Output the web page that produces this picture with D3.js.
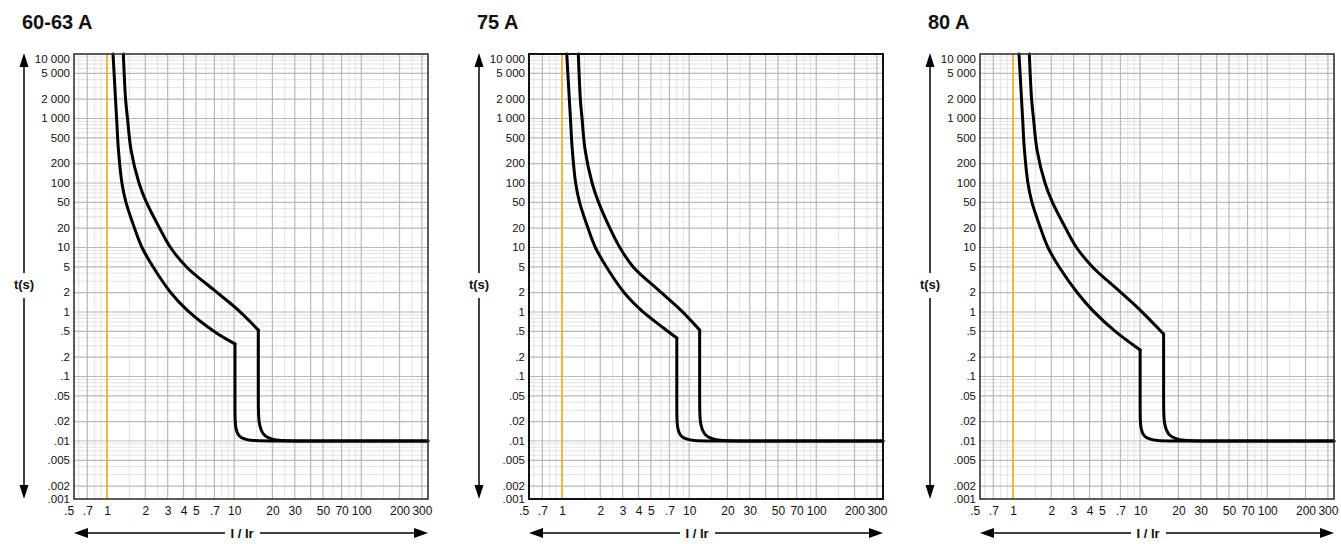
<!DOCTYPE html>
<html><head><meta charset="utf-8">
<script src="https://cdn.jsdelivr.net/npm/d3@7"></script>
<style>body{margin:0;background:#fff}</style>
</head><body><svg id="c" width="1341" height="544"></svg>
<script>
const FONT = '"Liberation Sans", Arial, Helvetica, sans-serif';
const panelTitles = ["60-63 A", "75 A", "80 A"];
const xTickValues = [0.5, 0.7, 1, 2, 3, 4, 5, 7, 10, 20, 30, 50, 70, 100, 200, 300];
const xTickLabels = [".5", ".7", "1", "2", "3", "4", "5", ".7", "10", "20", "30", "50", "70", "100", "200", "300"];
const yTickValues = [10000, 5000, 2000, 1000, 500, 200, 100, 50, 20, 10, 5, 2, 1, 0.5, 0.2, 0.1, 0.05, 0.02, 0.01, 0.005, 0.002, 0.001];
const yTickLabels = ["10 000", "5 000", "2 000", "1 000", "500", "200", "100", "50", "20", "10", "5", "2", "1", ".5", ".2", ".1", ".05", ".02", ".01", ".005", ".002", ".001"];
const xMajorMult = [1, 2, 3, 4, 5, 7];
const xMinorMult = [1.5, 2.5, 6, 8, 9];
const yMajorMult = [1, 2, 5];
const yMinorMult = [3, 4, 6, 7, 8, 9];
const ratedLine = 1; // I/Ir = 1

// tripping curves [I/Ir, t(s)]: thermal part up to the corner,
// then magnetic trip (vertical), rounded knee and instantaneous floor at 0.01 s
const min60 = [[1.115,10000],[1.19,1000],[1.23,325],[1.31,100],[1.41,50],[1.645,20],[1.885,10],[2.32,4.9],[3.19,1.97],[4.33,1.04],[7.06,0.49],[10.15,0.32],
               [10.15,0.0272],[10.15,0.01],[16.9,0.01],[335,0.01]];
const max60 = [[1.344,10000],[1.40,2000],[1.45,1000],[1.545,325],[1.785,100],[2.045,50],[2.59,20],[3.16,10],[4.26,4.9],[6.93,2.2],[10.77,1.07],[15.5,0.525],
               [15.5,0.0362],[15.5,0.01],[29.7,0.01],[335,0.01]];
const min75 = [[1.09,10000],[1.165,1000],[1.205,325],[1.28,100],[1.375,50],[1.60,20],[1.83,10],[2.25,4.9],[3.1,1.97],[4.25,1.04],[6.4,0.55],[8.0,0.395],
               [8.0,0.0272],[8.0,0.01],[13.3,0.01],[335,0.01]];
const max75 = [[1.344,10000],[1.394,2000],[1.438,1000],[1.52,325],[1.725,100],[1.94,50],[2.38,20],[2.85,10],[3.66,4.9],[5.72,2.2],[8.6,1.07],[12.1,0.525],
               [12.1,0.0362],[12.1,0.01],[23.2,0.01],[335,0.01]];
const min80 = [[1.115,10000],[1.19,1000],[1.23,325],[1.31,100],[1.41,50],[1.645,20],[1.885,10],[2.32,4.9],[3.22,1.97],[4.26,1.04],[6.45,0.49],[10.0,0.258],
               [10.0,0.0272],[10.0,0.01],[16.6,0.01],[335,0.01]];
const max80 = [[1.344,10000],[1.40,2000],[1.45,1000],[1.545,325],[1.785,100],[2.045,50],[2.59,20],[3.16,10],[4.26,4.9],[6.7,2.2],[10.0,1.07],[15.3,0.456],
               [15.3,0.0362],[15.3,0.01],[29.4,0.01],[335,0.01]];
const panelCurves = [[min60, max60], [min75, max75], [min80, max80]];

const svg = d3.select("#c");
const lefts = [74, 529, 980];
const W = 354, TOP = 54, BOT = 499;
const decadesX = [0.1, 1, 10, 100];
const decadesY = [0.001, 0.01, 0.1, 1, 10, 100, 1000];

function arrowV(g, x, y0, y1) {
  const dir = Math.sign(y1 - y0);
  g.append("path").attr("d", `M${x},${y1} L${x-4.5},${y1 - dir*14} L${x+4.5},${y1 - dir*14} Z`).attr("fill", "#000");
}
function arrowH(g, y, x0, x1) {
  const dir = Math.sign(x1 - x0);
  g.append("path").attr("d", `M${x1},${y} L${x1 - dir*14},${y-5} L${x1 - dir*14},${y+5} Z`).attr("fill", "#000");
}

panelTitles.forEach((title, p) => {
  const L = lefts[p], R = L + W;
  const x = d3.scaleLog().domain([0.55, 335]).range([L, R]);
  const y = d3.scaleLog().domain([0.00126, 10000]).range([BOT, TOP]).clamp(true);
  const g = svg.append("g");

  g.append("text").attr("x", L - 52).attr("y", 29).attr("font-family", FONT).attr("font-weight", "bold")
    .attr("font-size", 20).attr("fill", "#111").text(title);

  const [xd0, xd1] = x.domain();
  const [yd0, yd1] = y.domain();
  const inX = v => v > xd0 && v < xd1;
  const inY = v => v > yd0 * 1.0001 && v < yd1;
  const xMinor = decadesX.flatMap(d => xMinorMult.map(m => d * m)).filter(inX);
  const xMajor = decadesX.flatMap(d => xMajorMult.map(m => d * m)).filter(inX);
  const yMinor = decadesY.flatMap(d => yMinorMult.map(m => d * m)).filter(inY);
  const yMajor = decadesY.flatMap(d => yMajorMult.map(m => d * m)).filter(inY);

  const grid = g.append("g");
  grid.selectAll(".xm").data(xMinor).join("line").attr("x1", d => x(d)).attr("x2", d => x(d))
    .attr("y1", TOP).attr("y2", BOT).attr("stroke", "#e2e2e2").attr("stroke-width", 1);
  grid.selectAll(".ym").data(yMinor).join("line").attr("y1", d => y(d)).attr("y2", d => y(d))
    .attr("x1", L).attr("x2", R).attr("stroke", "#e2e2e2").attr("stroke-width", 1);
  grid.selectAll(".xM").data(xMajor).join("line").attr("x1", d => x(d)).attr("x2", d => x(d))
    .attr("y1", TOP).attr("y2", BOT).attr("stroke", "#b9b9b9").attr("stroke-width", 1.2);
  grid.selectAll(".yM").data(yMajor).join("line").attr("y1", d => y(d)).attr("y2", d => y(d))
    .attr("x1", L).attr("x2", R).attr("stroke", "#b9b9b9").attr("stroke-width", 1.2);

  g.append("line").attr("x1", x(ratedLine)).attr("x2", x(ratedLine)).attr("y1", TOP).attr("y2", BOT)
    .attr("stroke", "#f5b21b").attr("stroke-width", 1.6);

  const thermalLine = d3.line().x(d => x(d[0])).y(d => y(d[1])).curve(d3.curveCatmullRom.alpha(0.5));
  const magneticLine = d3.line().x(d => x(d[0])).y(d => y(d[1])).curve(d3.curveBasis);
  panelCurves[p].forEach(c => {
    let k = 0;
    for (let i = 0; i < c.length - 1; i++) if (c[i][0] === c[i + 1][0]) { k = i; break; }
    [[thermalLine, c.slice(0, k + 1)], [magneticLine, c.slice(k)]].forEach(([ln, part]) => {
      g.append("path").attr("d", ln(part)).attr("fill", "none").attr("stroke", "#000")
        .attr("stroke-width", 3).attr("stroke-linejoin", "round").attr("stroke-linecap", "round");
    });
  });

  g.append("rect").attr("x", L).attr("y", TOP).attr("width", W).attr("height", BOT - TOP)
    .attr("fill", "none").attr("stroke", p === 1 ? "#111" : "#333").attr("stroke-width", p === 1 ? 2 : 1.6);

  const xa = g.append("g").attr("transform", `translate(0,${BOT})`)
    .call(d3.axisBottom(x).tickValues(xTickValues).tickFormat((d, i) => xTickLabels[i]).tickSize(0).tickPadding(7));
  xa.select(".domain").remove();
  xa.selectAll("text").attr("font-family", FONT).attr("font-size", 12).attr("fill", "#111");

  const ya = g.append("g").attr("transform", `translate(${L},0)`)
    .call(d3.axisLeft(y).tickValues(yTickValues).tickFormat((d, i) => yTickLabels[i]).tickSize(0).tickPadding(4));
  ya.select(".domain").remove();
  ya.selectAll("text").attr("font-family", FONT).attr("font-size", 11.5).attr("fill", "#111");
  ya.selectAll(".tick").attr("transform", d => `translate(0,${Math.min(Math.max(y(d), TOP + 5), BOT)})`);

  const ax = L - 50;
  g.append("line").attr("x1", ax).attr("x2", ax).attr("y1", TOP + 10).attr("y2", 273).attr("stroke", "#000").attr("stroke-width", 1.5);
  g.append("line").attr("x1", ax).attr("x2", ax).attr("y1", 298).attr("y2", BOT - 10).attr("stroke", "#000").attr("stroke-width", 1.5);
  arrowV(g, ax, 273, TOP - 1);
  arrowV(g, ax, 298, BOT);
  g.append("text").attr("x", ax).attr("y", 289).attr("text-anchor", "middle").attr("font-family", FONT)
    .attr("font-weight", "bold").attr("font-size", 13).attr("fill", "#111").text("t(s)");

  const ay = 533, lx = L + 168;
  g.append("line").attr("x1", L + 10).attr("x2", lx - 17).attr("y1", ay).attr("y2", ay).attr("stroke", "#000").attr("stroke-width", 1.5);
  g.append("line").attr("x1", lx + 18).attr("x2", R - 10).attr("y1", ay).attr("y2", ay).attr("stroke", "#000").attr("stroke-width", 1.5);
  arrowH(g, ay, lx, L);
  arrowH(g, ay, lx, R);
  g.append("text").attr("x", lx).attr("y", ay + 5).attr("text-anchor", "middle").attr("font-family", FONT)
    .attr("font-weight", "bold").attr("font-size", 13).attr("fill", "#111").text("I / Ir");
});
</script></body></html>
